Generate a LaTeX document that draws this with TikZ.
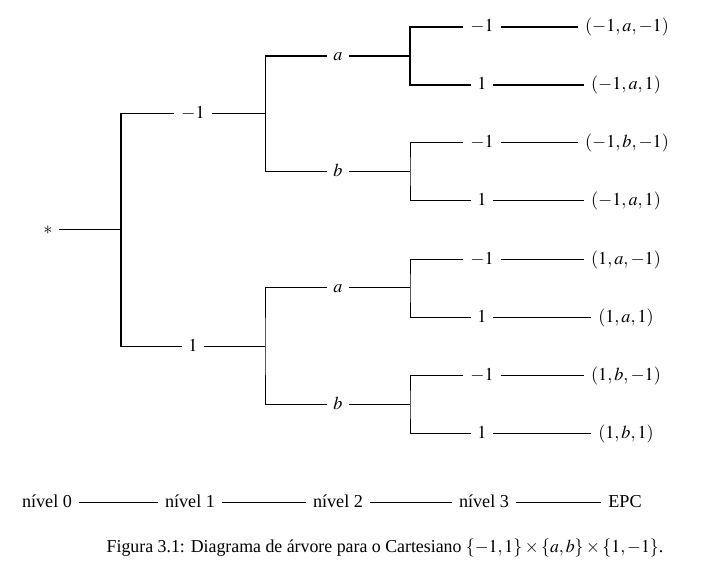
\documentclass[tikz,border=0pt]{standalone}
\usepackage{mathptmx}
\usepackage{fontspec}
\setmainfont{Liberation Serif}
\begin{document}
\begin{tikzpicture}[x=0.55pt,y=-0.55pt,
  lbl/.style={inner sep=0pt, outer sep=3.8pt, text height=7pt, text depth=2pt},
  thn/.style={line width=0.55pt},
  thk/.style={line width=1.1pt}]
\useasboundingbox (0,0) rectangle (723,573);
% nodes
\node[lbl] (r) at (48,230) {$*$};
\node[lbl] (n1) at (193,114) {$-1$};
\node[lbl] (n2) at (193,347) {$1$};
\node[lbl] (a1) at (338,56) {$a$};
\node[lbl] (b1) at (338,172) {$b$};
\node[lbl] (a2) at (338,288) {$a$};
\node[lbl] (b2) at (338,405) {$b$};
\node[lbl] (m1) at (482,27) {$-1$};
\node[lbl] (p1) at (482,85) {$1$};
\node[lbl] (m2) at (482,143) {$-1$};
\node[lbl] (p2) at (482,201) {$1$};
\node[lbl] (m3) at (482,260) {$-1$};
\node[lbl] (p3) at (482,318) {$1$};
\node[lbl] (m4) at (482,376) {$-1$};
\node[lbl] (p4) at (482,434) {$1$};
\node[lbl] (e1) at (627,27) {$(-1,a,-1)$};
\node[lbl] (e2) at (626,85) {$(-1,a,1)$};
\node[lbl] (e3) at (627,143) {$(-1,b,-1)$};
\node[lbl] (e4) at (626,201) {$(-1,a,1)$};
\node[lbl] (e5) at (626,260) {$(1,a,-1)$};
\node[lbl] (e6) at (626,318) {$(1,a,1)$};
\node[lbl] (e7) at (626,376) {$(1,b,-1)$};
\node[lbl] (e8) at (626,434) {$(1,b,1)$};
% split coordinates
\coordinate (s0) at (121,230);
\coordinate (s1) at (265,114);
\coordinate (s2) at (265,347);
\coordinate (t1) at (410,56);
\coordinate (t2) at (410,172);
\coordinate (t3) at (410,288);
\coordinate (t4) at (410,405);
% level 0 -> 1
\draw[thn] (r.east) -- (s0);
\draw[thn] (s0 |- n1) -- (n1.west);
\draw[thn] (s0 |- n2) -- (n2.west);
\draw[thk] ([yshift=0.275pt]s0 |- n1) -- ([yshift=-0.275pt]s0 |- n2);
% level 1 -> 2
\draw[thn] (n1.east) -- (s1);
\draw[thn] (n2.east) -- (s2);
\draw[thn] (a1.west -| s1) -- (b1.west -| s1) -- (b1.west);
\draw[thk] (a1.west -| s1) -- (a1.west);
\draw[thn] (a2.west) -| (s2) |- (b2.west);
% level 2 -> 3
\draw[thk] (a1.east) -- (t1);
\draw[thk] (m1.west) -| (t1) |- (p1.west);
\draw[thn] (b1.east) -- (t2);
\draw[thn] (m2.west) -| (t2) |- (p2.west);
\draw[thn] (a2.east) -- (t3);
\draw[thn] (m3.west) -| (t3) |- (p3.west);
\draw[thn] (b2.east) -- (t4);
\draw[thn] (m4.west) -| (t4) |- (p4.west);
% level 3 -> leaves
\draw[thk] (m1) -- (e1);
\draw[thk] (p1) -- (e2);
\draw[thn] (m2) -- (e3);
\draw[thn] (p2) -- (e4);
\draw[thn] (m3) -- (e5);
\draw[thn] (p3) -- (e6);
\draw[thn] (m4) -- (e7);
\draw[thn] (p4) -- (e8);
% levels legend
\node[lbl] (v0) at (47,503) {nível 0};
\node[lbl] (v1) at (190,503) {nível 1};
\node[lbl] (v2) at (338,503) {nível 2};
\node[lbl] (v3) at (484,503) {nível 3};
\node[lbl] (v4) at (625,503) {EPC};
\draw[thn] (v0) -- (v1);
\draw[thn] (v1) -- (v2);
\draw[thn] (v2) -- (v3);
\draw[thn] (v3) -- (v4);
% caption
\node[lbl, xscale=0.98] (cap) at (385,548) {Figura 3.1: Diagrama de árvore para o Cartesiano $\{-1,1\}\times\{a,b\}\times\{1,-1\}$.};
\end{tikzpicture}
\end{document}
